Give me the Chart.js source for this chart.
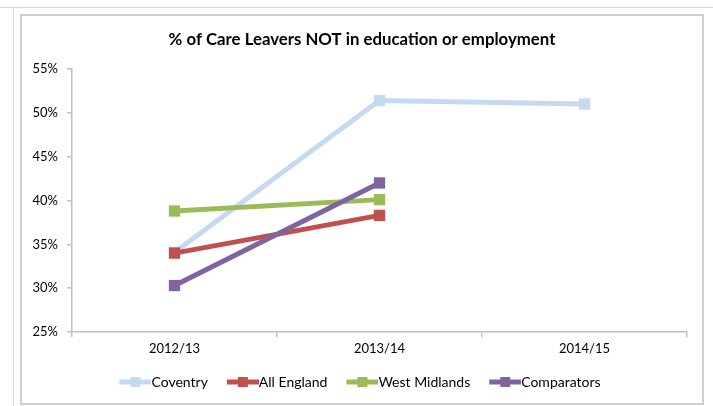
<!DOCTYPE html>
<html>
<head>
<meta charset="utf-8">
<script src="https://cdn.jsdelivr.net/npm/chart.js@4/dist/chart.umd.min.js"></script>
<style>
  html, body { margin: 0; padding: 0; background: #ffffff; }
  #wrap { width: 713px; height: 406px; position: relative; }
</style>
</head>
<body>
<div id="wrap"><canvas id="c" width="713" height="406"></canvas></div>
<script>
// Academic years on the x axis
const years = ['2012/13', '2013/14', '2014/15'];

// % of care leavers not in education or employment
const coventry      = [34.1, 51.4, 51.0];
const allEngland    = [34.0, 38.3, null];
const westMidlands  = [38.8, 40.1, null];
const comparators   = [30.3, 42.0, null];

const seriesNames = ['Coventry', 'All England', 'West Midlands', 'Comparators'];
const seriesColours = ['#c6d9f1', '#c0504d', '#9bbb59', '#8064a2'];

const chartTitle = '% of Care Leavers NOT in education or employment';

const FONT = 'Lato, "Open Sans", sans-serif';
const LEGEND_FONT_SIZE = 14;

// Legend swatch: a short line with a square marker in the middle.
// Chart.js centres the image on the legend box, so the image is padded
// symmetrically: a blank gap on the left spaces the items apart and the
// line runs on to the start of the label text.
const SW_GAP = 11, SW_LINE = 25, HALF = LEGEND_FONT_SIZE / 2;
function legendSwatch(colour) {
  const cv = document.createElement('canvas');
  cv.width = SW_GAP + SW_LINE + 2 * HALF;
  cv.height = 12;
  const g = cv.getContext('2d');
  const x0 = HALF + SW_GAP;
  g.strokeStyle = colour;
  g.lineWidth = 5;
  g.beginPath(); g.moveTo(x0, 6); g.lineTo(cv.width, 6); g.stroke();
  g.fillStyle = colour;
  const mid = x0 + (cv.width - x0) / 2;
  g.fillRect(Math.round(mid - 5), 1, 10, 10);
  return cv;
}
const swatches = seriesColours.map(legendSwatch);

// Frame around the chart and the chart title
const framePlugin = {
  id: 'frame',
  beforeDraw(chart) {
    const ctx = chart.ctx;
    ctx.save();
    ctx.strokeStyle = '#d9d9d9';
    ctx.lineWidth = 1;
    ctx.beginPath();
    ctx.moveTo(0, 7.5); ctx.lineTo(713, 7.5);
    ctx.moveTo(13.5, 7); ctx.lineTo(13.5, 406);
    ctx.stroke();
    ctx.strokeStyle = '#d0d0d0';
    ctx.lineWidth = 2;
    ctx.strokeRect(21, 15, 682, 389);
    ctx.restore();
  },
  afterDraw(chart) {
    const ctx = chart.ctx;
    ctx.save();
    ctx.fillStyle = '#000000';
    ctx.font = 'bold 16.8px ' + FONT;
    ctx.textAlign = 'center';
    ctx.textBaseline = 'middle';
    ctx.fillText(chartTitle, 362, 40);
    ctx.restore();
  }
};

function makeDataset(i, values, order) {
  return {
    label: seriesNames[i],
    data: values,
    borderColor: seriesColours[i],
    backgroundColor: seriesColours[i],
    borderWidth: 5,
    pointStyle: 'rect',
    pointRadius: 8,
    pointHoverRadius: 8,
    pointBorderWidth: 0,
    spanGaps: false,
    order: order
  };
}

new Chart(document.getElementById('c'), {
  type: 'line',
  data: {
    labels: years,
    datasets: [
      makeDataset(0, coventry, 4),
      makeDataset(1, allEngland, 3),
      makeDataset(2, westMidlands, 2),
      makeDataset(3, comparators, 1)
    ]
  },
  options: {
    responsive: false,
    animation: false,
    devicePixelRatio: 1,
    layout: { padding: { left: 22, right: 26, top: 69, bottom: 7 } },
    plugins: {
      title: { display: false },
      legend: {
        position: 'bottom',
        labels: {
          color: '#000000',
          font: { family: FONT, size: LEGEND_FONT_SIZE },
          usePointStyle: true,
          pointStyleWidth: SW_GAP + SW_LINE,
          boxHeight: 12,
          padding: 8,
          generateLabels(chart) {
            return chart.data.datasets.map((ds, i) => ({
              text: ds.label,
              pointStyle: swatches[i],
              fillStyle: ds.borderColor,
              strokeStyle: ds.borderColor,
              lineWidth: 0,
              hidden: false,
              datasetIndex: i,
              fontColor: '#000000'
            }));
          }
        }
      },
      tooltip: { enabled: false }
    },
    scales: {
      x: {
        offset: true,
        afterFit(scale) { scale.height = 35; },
        grid: {
          offset: true,
          drawOnChartArea: false,
          drawTicks: true,
          tickLength: 5,
          color: '#bfbfbf',
          lineWidth: 1.5
        },
        border: { color: '#bfbfbf', width: 1.5 },
        ticks: {
          color: '#000000',
          font: { family: FONT, size: 13 },
          padding: 4
        }
      },
      y: {
        min: 25,
        max: 55,
        afterFit(scale) { scale.width = 50; },
        grid: {
          drawOnChartArea: false,
          drawTicks: true,
          tickLength: 5,
          color: '#bfbfbf',
          lineWidth: 1.5
        },
        border: { color: '#bfbfbf', width: 1.5 },
        ticks: {
          stepSize: 5,
          color: '#000000',
          font: { family: FONT, size: 13 },
          padding: 9,
          callback: v => v + '%'
        }
      }
    }
  },
  plugins: [framePlugin]
});
</script>
</body>
</html>
